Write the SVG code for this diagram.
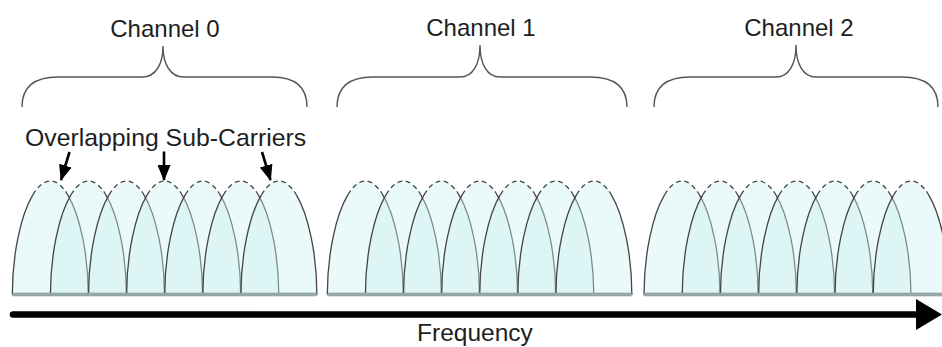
<svg xmlns="http://www.w3.org/2000/svg" width="942" height="347" viewBox="0 0 942 347">
<style>
  .lbl{font-family:"Liberation Sans",Arial,sans-serif;font-size:24px;fill:#1e1e1e}
  .brace{fill:none;stroke:#555;stroke-width:1.4}
  .af{fill:rgb(206,240,240);fill-opacity:0.42;stroke:none}
  .as{fill:none;stroke:#444;stroke-width:1.3}
  .ad{fill:none;stroke:#444;stroke-width:1.3;stroke-dasharray:5 3.5}
  .base{fill:#98abab;stroke:#869898;stroke-width:0.6}
  .ptr{stroke:#000;stroke-width:2.6;fill:none}
</style>
<defs>
  <g id="arch">
    <path class="af" d="M0,295 C0,238 17,181 38,181 C59,181 76,238 76,295 Z"/>
    <path class="as" d="M0,295 C0,255.1 8.33,215.2 20.53,194.85"/>
    <path class="ad" d="M20.53,194.85 C25.76,186.13 31.7,181 38,181 C44.3,181 50.24,186.13 55.47,194.85"/>
    <path class="as" d="M55.47,194.85 C67.67,215.2 76,255.1 76,295"/>
  </g>
  <marker id="ah" markerUnits="userSpaceOnUse" markerWidth="16" markerHeight="13" viewBox="0 0 16 13" refX="15" refY="6.5" orient="auto">
    <path d="M0,0 L16,6.5 L0,13 Z" fill="#000"/>
  </marker>
</defs>
<rect width="942" height="347" fill="#fff"/>

<g id="channel0">
  <text class="lbl" x="165" y="37" text-anchor="middle">Channel 0</text>
  <path class="brace" d="M22,107 C22,86 36,77 58,77 L142,77 C156,77 163,64 163,46 C163,64 170,77 184,77 L272,77 C294,77 307,86 307,107"/>
  <use href="#arch" x="12.3"/>
  <use href="#arch" x="50.4"/>
  <use href="#arch" x="88.5"/>
  <use href="#arch" x="126.6"/>
  <use href="#arch" x="164.7"/>
  <use href="#arch" x="202.8"/>
  <use href="#arch" x="240.9"/>
  <rect class="base" x="12.3" y="293" width="304.6" height="3" rx="1.5"/>
</g>

<g id="channel1">
  <text class="lbl" x="481" y="36" text-anchor="middle">Channel 1</text>
  <path class="brace" d="M337,107 C337,86 351,77 373,77 L460,77 C473,77 480,64 480,45 C480,64 487,77 500,77 L590,77 C613,77 627,86 627,107"/>
  <use href="#arch" x="327.3"/>
  <use href="#arch" x="365.4"/>
  <use href="#arch" x="403.5"/>
  <use href="#arch" x="441.6"/>
  <use href="#arch" x="479.7"/>
  <use href="#arch" x="517.8"/>
  <use href="#arch" x="555.9"/>
  <rect class="base" x="327.3" y="293" width="304.6" height="3" rx="1.5"/>
</g>

<g id="channel2">
  <text class="lbl" x="799" y="36" text-anchor="middle">Channel 2</text>
  <path class="brace" d="M654,107 C654,86 668,77 690,77 L776,77 C789,77 796,64 796,45 C796,64 803,77 816,77 L902,77 C924,77 938,86 938,107"/>
  <use href="#arch" x="644"/>
  <use href="#arch" x="682.2"/>
  <use href="#arch" x="720.4"/>
  <use href="#arch" x="758.6"/>
  <use href="#arch" x="796.8"/>
  <use href="#arch" x="835"/>
  <use href="#arch" x="873.2"/>
  <rect class="base" x="644" y="293" width="310" height="3" rx="1.5"/>
</g>

<g id="subcarrier-label">
  <text class="lbl" x="25" y="146" style="font-size:24.8px">Overlapping Sub-Carriers</text>
</g>

<g id="frequency-label">
  <text class="lbl" x="475" y="341" text-anchor="middle" style="font-size:24.5px">Frequency</text>
</g>

<g id="connectors">
  <line class="ptr" x1="69.5" y1="152" x2="61" y2="180" marker-end="url(#ah)"/>
  <line class="ptr" x1="164" y1="151.5" x2="164" y2="180" marker-end="url(#ah)"/>
  <line class="ptr" x1="262" y1="152" x2="270.5" y2="180" marker-end="url(#ah)"/>
  <line x1="13" y1="314.5" x2="920" y2="314.5" stroke="#000" stroke-width="6.5" stroke-linecap="round"/>
  <polygon points="916,299 942,314.5 916,330" fill="#000"/>
</g>
</svg>
